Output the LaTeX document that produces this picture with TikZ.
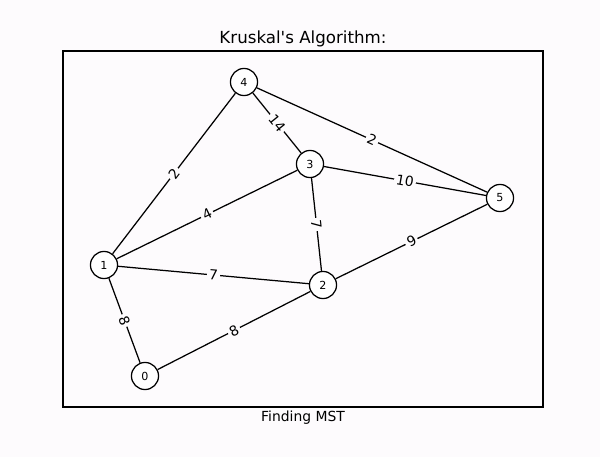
\documentclass[tikz,border=0pt]{standalone}
\usepackage{fontspec}
\setmainfont{DejaVu Sans}[Ligatures=TeXOff]
\definecolor{paper}{RGB}{253,251,253}
\begin{document}
\begin{tikzpicture}[x=0.72pt, y=-0.72pt,
        vertex/.style={circle, draw=black, line width=0.9pt, fill=white, minimum size=19.5pt, inner sep=0pt, font=\fontsize{8}{9}\selectfont},
        weight/.style={midway, sloped, fill=paper, inner sep=1.5pt, font=\fontsize{10}{12}\selectfont},
        edge/.style={line width=0.9pt, black}]
        \fill[paper] (0,0) rectangle (600,457);
        \useasboundingbox (0,0) rectangle (600,457);

        % axes frame and texts
        \draw[line width=0.8pt] (63,51) rectangle (543,407);
        \node (title) at (303,39) {\fontsize{12}{14}\selectfont Kruskal's Algorithm:};
        \node (xlab) at (303,418) {\fontsize{10}{12}\selectfont Finding MST};

        % vertices
        \node[vertex] (v0) at (145,376) {0};
        \node[vertex] (v1) at (104,265) {1};
        \node[vertex] (v2) at (323,285) {2};
        \node[vertex] (v3) at (310,164) {3};
        \node[vertex] (v4) at (244,82) {4};
        \node[vertex] (v5) at (500,198) {5};

        % weighted edges
        \draw[edge] (v4) -- node[weight] {2} (v1);
        \draw[edge] (v4) -- node[weight] {14} (v3);
        \draw[edge] (v4) -- node[weight] {2} (v5);
        \draw[edge] (v3) -- node[weight] {10} (v5);
        \draw[edge] (v1) -- node[weight] {4} (v3);
        \draw[edge] (v3) -- node[weight] {7} (v2);
        \draw[edge] (v2) -- node[weight] {9} (v5);
        \draw[edge] (v1) -- node[weight] {7} (v2);
        \draw[edge] (v1) -- node[weight] {8} (v0);
        \draw[edge] (v0) -- node[weight] {8} (v2);
    \end{tikzpicture}
\end{document}
